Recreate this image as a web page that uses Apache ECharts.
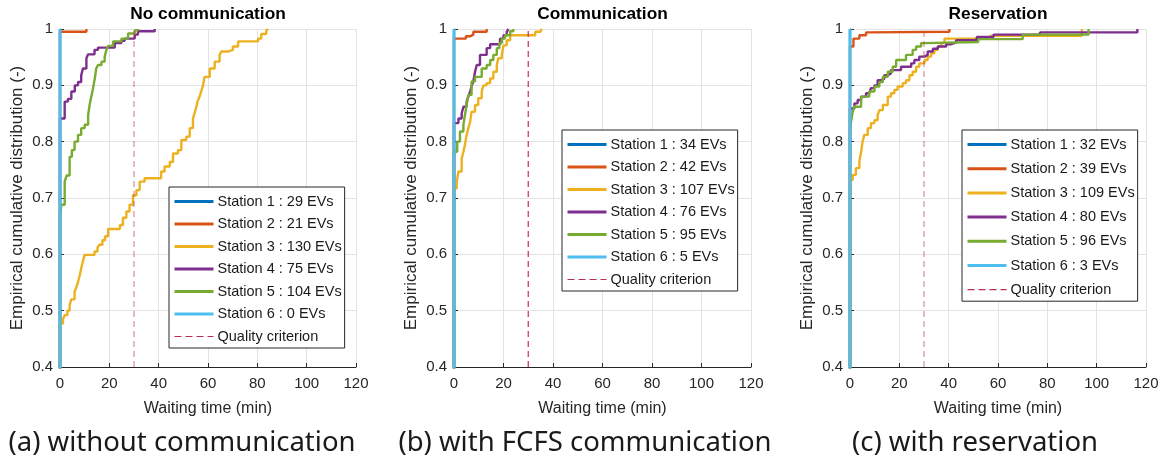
<!DOCTYPE html>
<html>
<head>
<meta charset="utf-8">
<title>Waiting time distributions per charging station</title>
<script src="https://cdn.jsdelivr.net/npm/echarts@6/dist/echarts.min.js"></script>
<style>
  html, body { margin: 0; padding: 0; background: #ffffff; }
  #chart { width: 1164px; height: 461px; }
</style>
</head>
<body>
<div id="chart"></div>
<script>
// ---- Labels ----------------------------------------------------------------
const panelTitles = ['No communication', 'Communication', 'Reservation'];
const panelCaptions = ['(a) without communication', '(b) with FCFS communication', '(c) with reservation'];
const stationNames = ['Station 1', 'Station 2', 'Station 3', 'Station 4', 'Station 5', 'Station 6'];
const qualityName = 'Quality criterion';
const xAxisName = 'Waiting time (min)';
const yAxisName = 'Empirical cumulative distribution (-)';

// Number of EVs served per station, per scenario
const evCountsNoComm = [29, 21, 130, 75, 104, 0];
const evCountsComm = [34, 42, 107, 76, 95, 5];
const evCountsReserv = [32, 39, 109, 80, 96, 3];

// Axis ranges (minutes / probability)
const waitRange = [0, 120, 20];
const cdfRange = [0.4, 1, 0.1];
const qualityLimit = 30; // minutes

// ---- Empirical CDFs: waiting time (min) where the CDF steps, and the CDF after the step
// No communication
const noCommS1Wait = [0];
const noCommS1Cdf = [1];
const noCommS2Wait = [0, 10.7];
const noCommS2Cdf = [0.995, 1];
const noCommS3Wait = [0, 1.2, 1.9, 3, 3.9, 4.6, 5.9, 6.5, 7.3, 8, 8.6, 9.3, 10, 14, 15.2, 16, 17.2, 18.3, 19.5, 24.3, 25.5, 26.9, 28.2, 29.6, 31, 32.3, 34.3, 41, 42.4, 44.5, 45.8, 47.8, 49.2, 51.2, 52.6, 53.9, 54.5, 55.3, 55.8, 56.6, 57.3, 58, 58.6, 60.7, 62.7, 64.7, 65.4, 68, 70.1, 72.2, 80.3, 81.6, 83.6, 84.3];
const noCommS3Cdf = [0.477, 0.485, 0.492, 0.5, 0.51, 0.52, 0.534, 0.54, 0.551, 0.563, 0.575, 0.588, 0.599, 0.605, 0.612, 0.617, 0.625, 0.632, 0.645, 0.652, 0.665, 0.676, 0.688, 0.705, 0.714, 0.729, 0.735, 0.747, 0.756, 0.764, 0.779, 0.785, 0.803, 0.809, 0.824, 0.841, 0.85, 0.862, 0.872, 0.88, 0.89, 0.9, 0.915, 0.93, 0.942, 0.954, 0.96, 0.963, 0.969, 0.978, 0.983, 0.991, 0.997, 1];
const noCommS4Wait = [0, 1.9, 3.2, 4.6, 6, 7.3, 8.6, 9.3, 10.7, 11.4, 14, 15.4, 22.2, 24.9, 26.2, 30.3, 31.6, 38.4];
const noCommS4Cdf = [0.841, 0.871, 0.876, 0.889, 0.9, 0.906, 0.918, 0.93, 0.948, 0.955, 0.963, 0.967, 0.975, 0.979, 0.983, 0.99, 0.996, 1];
const noCommS5Wait = [0, 0.5, 1.9, 2.7, 3.9, 4.8, 5.9, 7.3, 8.6, 10, 11.4, 12, 12.7, 13.4, 14.1, 14.7, 15.4, 16.8, 18.1, 18.8, 19.5, 21.5, 24.9, 27.6, 30.3, 31.6];
const noCommS5Cdf = [0.667, 0.688, 0.729, 0.74, 0.773, 0.785, 0.8, 0.812, 0.824, 0.83, 0.847, 0.865, 0.88, 0.895, 0.912, 0.93, 0.936, 0.942, 0.951, 0.963, 0.97, 0.978, 0.983, 0.992, 0.998, 1];
const noCommS6Wait = [0];
const noCommS6Cdf = [1];

// FCFS communication
const commS1Wait = [0];
const commS1Cdf = [1];
const commS2Wait = [0, 4.8, 6.5, 7.8, 13.2];
const commS2Cdf = [0.983, 0.987, 0.99, 0.995, 1];
const commS3Wait = [0, 1.1, 1.8, 3.1, 3.8, 4.4, 5.1, 5.8, 6.5, 7.1, 8.5, 9.8, 11.2, 11.9, 13.2, 14.6, 15.9, 17.3, 17.9, 19.3, 20, 21.3, 22.7, 32.8, 34.8, 35.5];
const commS3Cdf = [0.717, 0.729, 0.747, 0.77, 0.782, 0.794, 0.812, 0.824, 0.835, 0.853, 0.865, 0.877, 0.889, 0.9, 0.904, 0.912, 0.924, 0.936, 0.948, 0.954, 0.971, 0.98, 0.989, 0.995, 0.998, 1];
const commS4Wait = [0, 1.8, 3.1, 3.8, 5.1, 5.8, 6.5, 7.1, 7.8, 8.5, 9.2, 10.5, 13.2, 14.6, 18.6, 20, 21.3, 22];
const commS4Cdf = [0.833, 0.841, 0.85, 0.862, 0.871, 0.88, 0.889, 0.898, 0.907, 0.924, 0.936, 0.954, 0.966, 0.973, 0.983, 0.989, 0.995, 1];
const commS5Wait = [0, 1.3, 2.4, 3.8, 4.4, 5.1, 5.8, 7.1, 8.5, 11.2, 13.2, 14.6, 15.9, 17.3, 18.3, 19.3, 20.6, 22.7, 24];
const commS5Cdf = [0.782, 0.8, 0.818, 0.83, 0.847, 0.865, 0.883, 0.907, 0.915, 0.93, 0.936, 0.945, 0.954, 0.966, 0.975, 0.983, 0.989, 0.996, 1];
const commS6Wait = [0];
const commS6Cdf = [1];

// Reservation
const reservS1Wait = [0];
const reservS1Cdf = [1];
const reservS2Wait = [0, 1.4, 3.8, 6.5, 7.8, 40.3];
const reservS2Cdf = [0.969, 0.983, 0.989, 0.994, 0.995, 1];
const reservS3Wait = [0, 1.1, 2.4, 3.8, 4.5, 5.1, 5.8, 7.2, 8.5, 9.9, 11.2, 11.9, 13.3, 15.3, 16.6, 18, 19.3, 21.4, 22.7, 24.1, 25.4, 26.8, 28.1, 30.2, 31.5, 32.9, 34.2, 35.6, 37, 38.3, 57, 94];
const reservS3Cdf = [0.732, 0.741, 0.753, 0.765, 0.782, 0.8, 0.812, 0.824, 0.833, 0.838, 0.847, 0.856, 0.865, 0.88, 0.886, 0.892, 0.898, 0.904, 0.909, 0.918, 0.924, 0.933, 0.939, 0.945, 0.951, 0.957, 0.963, 0.969, 0.975, 0.983, 0.988, 1];
const reservS4Wait = [0, 1.8, 3.1, 4.5, 6.5, 7.8, 8.5, 9.9, 11.2, 12.6, 13.9, 15.3, 16.6, 20.7, 24.8, 26.1, 28.1, 30.2, 31.5, 33.6, 35.6, 39, 41, 43, 51.4, 58.2, 77, 116.5];
const reservS4Cdf = [0.859, 0.868, 0.874, 0.88, 0.886, 0.889, 0.895, 0.9, 0.909, 0.912, 0.918, 0.921, 0.927, 0.933, 0.939, 0.945, 0.951, 0.954, 0.96, 0.965, 0.969, 0.973, 0.976, 0.98, 0.986, 0.99, 0.994, 1];
const reservS5Wait = [0, 0.4, 1.1, 1.8, 4.5, 7.8, 9.9, 11.9, 13.3, 15.3, 17.3, 18.7, 22.7, 25.4, 26.8, 28.8, 30.2, 52, 70, 96.7];
const reservS5Cdf = [0.818, 0.835, 0.853, 0.862, 0.88, 0.889, 0.898, 0.906, 0.915, 0.924, 0.933, 0.945, 0.954, 0.963, 0.969, 0.975, 0.977, 0.982, 0.99, 1];
const reservS6Wait = [0];
const reservS6Cdf = [1];

// ---- Styling -----------------------------------------------------------------
const stationColors = ['#0072BD', '#D95319', '#EDB120', '#7E2F8E', '#77AC30', '#4DBEEE'];
const qualityColors = ['rgba(190, 60, 90, 0.55)', '#d03a5b', 'rgba(190, 60, 90, 0.55)'];
const qualityLegendColor = '#b83050';
const axisInk = '#262626';
const gridInk = '#e3e3e3';
const plotFont = '"Liberation Sans", Arial, Helvetica, sans-serif';

const panels = [
  { counts: evCountsNoComm, waits: [noCommS1Wait, noCommS2Wait, noCommS3Wait, noCommS4Wait, noCommS5Wait, noCommS6Wait], cdfs: [noCommS1Cdf, noCommS2Cdf, noCommS3Cdf, noCommS4Cdf, noCommS5Cdf, noCommS6Cdf] },
  { counts: evCountsComm, waits: [commS1Wait, commS2Wait, commS3Wait, commS4Wait, commS5Wait, commS6Wait], cdfs: [commS1Cdf, commS2Cdf, commS3Cdf, commS4Cdf, commS5Cdf, commS6Cdf] },
  { counts: evCountsReserv, waits: [reservS1Wait, reservS2Wait, reservS3Wait, reservS4Wait, reservS5Wait, reservS6Wait], cdfs: [reservS1Cdf, reservS2Cdf, reservS3Cdf, reservS4Cdf, reservS5Cdf, reservS6Cdf] }
];

// Layout of the three axes boxes
const gridBoxes = [
  { left: 60, top: 29, width: 296, height: 338 },
  { left: 454, top: 29, width: 297, height: 338 },
  { left: 850, top: 29, width: 296, height: 338 }
];
const legendBoxes = [
  { left: 169, top: 187, itemGap: 7.5 },
  { left: 562, top: 130, itemGap: 7.5 },
  { left: 962, top: 130, itemGap: 9.2 }
];
const captionCenters = [182, 585, 975];

// An ECDF starts at probability 0 at zero waiting time
function cdfPoints(wait, cdf) {
  const pts = [[0, 0]];
  wait.forEach((w, i) => pts.push([w, cdf[i]]));
  return pts;
}

const grid = [], xAxis = [], yAxis = [], series = [], legend = [], title = [], graphic = [];

panels.forEach((panel, p) => {
  grid.push(Object.assign({ containLabel: false }, gridBoxes[p]));

  xAxis.push({
    gridIndex: p, type: 'value', min: waitRange[0], max: waitRange[1], interval: waitRange[2],
    name: xAxisName, nameLocation: 'middle', nameGap: 33.5,
    nameTextStyle: { fontFamily: plotFont, fontSize: 16, color: axisInk },
    axisLine: { show: true, onZero: false, lineStyle: { color: axisInk, width: 1 } },
    axisTick: { show: true, inside: true, length: 4, lineStyle: { color: axisInk } },
    axisLabel: { fontFamily: plotFont, fontSize: 15, color: axisInk, margin: 9.5 },
    splitLine: { show: true, lineStyle: { color: gridInk, width: 1 } }
  });

  yAxis.push({
    gridIndex: p, type: 'value', min: cdfRange[0], max: cdfRange[1], interval: cdfRange[2],
    name: yAxisName, nameLocation: 'middle', nameGap: 34, nameRotate: 90,
    nameTextStyle: { fontFamily: plotFont, fontSize: 17, color: axisInk },
    axisLine: { show: true, onZero: false, lineStyle: { color: axisInk, width: 1 } },
    axisTick: { show: true, inside: true, length: 4, lineStyle: { color: axisInk } },
    axisLabel: { fontFamily: plotFont, fontSize: 15, color: axisInk, margin: 7,
      formatter: v => String(Math.round(v * 10) / 10) },
    splitLine: { show: true, lineStyle: { color: gridInk, width: 1 } }
  });

  // Legend samples are plain line segments (no marker)
  const legendItems = [];
  stationNames.forEach((st, s) => {
    const name = `${st} : ${panel.counts[s]} EVs`;
    legendItems.push({ name, lineStyle: { color: stationColors[s], width: 3 },
      itemStyle: { color: 'rgba(0,0,0,0)', borderWidth: 0, opacity: 0 } });
    series.push({
      type: 'line', name, xAxisIndex: p, yAxisIndex: p,
      data: cdfPoints(panel.waits[s], panel.cdfs[s]),
      step: 'end', symbol: 'none', showSymbol: false, clip: true,
      lineStyle: { color: stationColors[s], width: s === 5 ? 2.8 : 2.4 },
      itemStyle: { color: stationColors[s] },
      emphasis: { disabled: true }, animation: false, z: 2 + s * 0.01
    });
  });

  legendItems.push({ name: qualityName, lineStyle: { color: qualityLegendColor, width: 1.2, type: [7, 4] },
    itemStyle: { color: 'rgba(0,0,0,0)', borderWidth: 0, opacity: 0 } });
  series.push({
    type: 'line', name: qualityName, xAxisIndex: p, yAxisIndex: p,
    data: [[qualityLimit, cdfRange[0]], [qualityLimit, cdfRange[1]]],
    symbol: 'none', showSymbol: false,
    lineStyle: { color: qualityColors[p], width: 1.3, type: [6, 4] },
    itemStyle: { color: qualityColors[p] },
    emphasis: { disabled: true }, animation: false, z: 3
  });

  legend.push({
    orient: 'vertical', left: legendBoxes[p].left, top: legendBoxes[p].top,
    data: legendItems, selectedMode: false,
    itemWidth: 39, itemHeight: 14, itemGap: legendBoxes[p].itemGap,
    padding: [7, 3, 4, 4],
    backgroundColor: '#ffffff', borderColor: axisInk, borderWidth: 1, borderRadius: 0,
    textStyle: { fontFamily: plotFont, fontSize: 14.5, color: '#1a1a1a', padding: [0, 0, 0, -1] }
  });

  title.push({
    text: panelTitles[p], left: gridBoxes[p].left + gridBoxes[p].width / 2, top: 6, textAlign: 'center', padding: 0,
    textStyle: { fontFamily: plotFont, fontSize: 17.3, fontWeight: 'bold', color: '#000000' }
  });

  graphic.push({
    type: 'text', x: captionCenters[p], y: 443, silent: true,
    style: { text: panelCaptions[p], fill: '#1a1a1a', font: '27.5px "Noto Sans", "Open Sans", sans-serif',
      textAlign: 'center', textVerticalAlign: 'middle' }
  });
});

const chart = echarts.init(document.getElementById('chart'), null, { renderer: 'canvas' });
chart.setOption({
  backgroundColor: '#ffffff',
  animation: false,
  title, grid, xAxis, yAxis, legend, series, graphic,
  tooltip: { show: false }
});
</script>
</body>
</html>
